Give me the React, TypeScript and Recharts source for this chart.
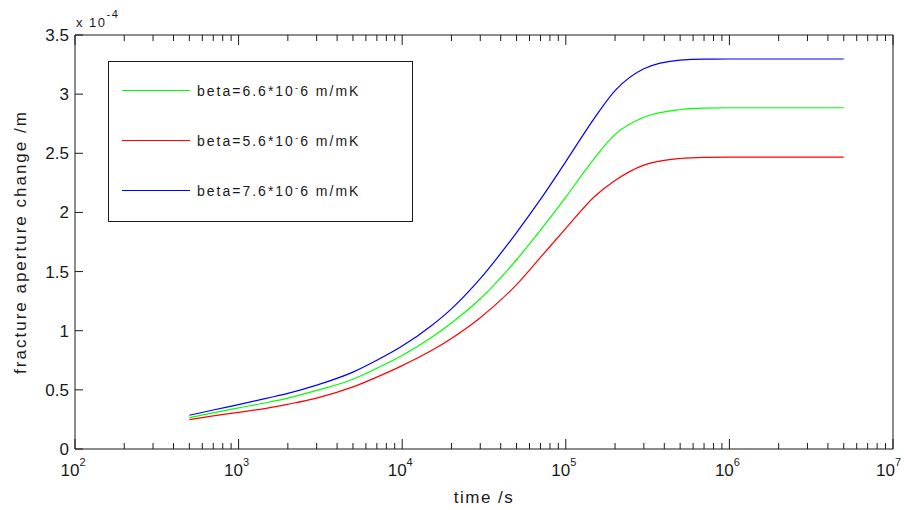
import React from "react"
import { LineChart, Line, XAxis, YAxis, Legend, Label } from "recharts"

const FONT = '"Liberation Sans", Arial, Helvetica, sans-serif'
const INK = "#1a1a1a"

// time /s (log axis), aperture change in units of 1e-4 m
const times = [500, 700, 1000, 1500, 2000, 3000, 5000, 7000, 1e4, 1.5e4, 2e4, 3e4, 5e4, 7e4, 1e5, 1.5e5, 2e5, 3e5, 5e5, 7e5, 1e6, 2e6, 5e6]
const beta66 = [0.265, 0.305, 0.348, 0.393, 0.43, 0.495, 0.59, 0.682, 0.79, 0.94, 1.065, 1.27, 1.6, 1.85, 2.13, 2.46, 2.66, 2.805, 2.87, 2.882, 2.885, 2.885, 2.885]
const beta56 = [0.248, 0.28, 0.31, 0.345, 0.378, 0.43, 0.525, 0.608, 0.705, 0.83, 0.935, 1.11, 1.39, 1.62, 1.865, 2.135, 2.27, 2.4, 2.456, 2.466, 2.468, 2.468, 2.468]
const beta76 = [0.285, 0.33, 0.375, 0.43, 0.47, 0.54, 0.65, 0.75, 0.87, 1.04, 1.185, 1.44, 1.83, 2.11, 2.43, 2.8, 3.03, 3.215, 3.288, 3.296, 3.297, 3.297, 3.297]

const majorTicks = [1e2, 1e3, 1e4, 1e5, 1e6, 1e7]
const minorTicks = majorTicks.slice(0, -1).flatMap((d) => [2, 3, 4, 5, 6, 7, 8, 9].map((k) => k * d))
const xTicks = [...majorTicks, ...minorTicks].sort((a, b) => a - b)
const yTicks = [0, 0.5, 1, 1.5, 2, 2.5, 3, 3.5]

const series = [
  { key: "b66", name: "beta=6.6*10^-6 m/mK", values: beta66, color: "#00ff00" },
  { key: "b56", name: "beta=5.6*10^-6 m/mK", values: beta56, color: "#ff0000" },
  { key: "b76", name: "beta=7.6*10^-6 m/mK", values: beta76, color: "#0000ff" },
]

const data = times.map((t, i) => {
  const p: Record<string, number> = { t }
  series.forEach((s) => {
    p[s.key] = s.values[i]
  })
  return p
})

const isMajor = (v: number) => {
  const e = Math.log10(v)
  return Math.abs(e - Math.round(e)) < 1e-9
}

// "10^-6" in the matlab tex sense: only the minus is raised
function TexText({ text }: { text: string }) {
  const [head, tail] = text.split("^-")
  return (
    <>
      {head}
      <span style={{ fontSize: "0.7em", verticalAlign: "0.5em" }}>-</span>
      {tail}
    </>
  )
}

// matlab draws its ticks inward, minor ones shorter
function BottomTick(props: any) {
  const { x, y, payload } = props
  const major = isMajor(payload.value)
  // last label would run past the figure edge, so right-align it there
  const last = payload.value === majorTicks[majorTicks.length - 1]
  return (
    <g>
      <line x1={x} x2={x} y1={y} y2={y - (major ? 10 : 6)} stroke={INK} />
      {major && (
        <text
          x={last ? x + 8 : x - 2}
          y={y + 27}
          textAnchor={last ? "end" : "middle"}
          fontSize={17}
          fill={INK}
          fontFamily={FONT}
        >
          10<tspan dy={-10} fontSize={11}>{Math.round(Math.log10(payload.value))}</tspan>
        </text>
      )}
    </g>
  )
}

function TopTick(props: any) {
  const { x, y, payload } = props
  return <line x1={x} x2={x} y1={y} y2={y + (isMajor(payload.value) ? 10 : 6)} stroke={INK} />
}

function LegendBox(props: any) {
  const payload = props.payload ?? []
  const items = series.map((s) => payload.find((p: any) => p.value === s.name)).filter(Boolean)
  return (
    <div
      style={{
        width: 305,
        height: 161,
        boxSizing: "border-box",
        border: `1px solid ${INK}`,
        background: "#fff",
        paddingTop: 3,
        fontFamily: FONT,
        fontSize: 14,
        letterSpacing: 2,
        color: INK,
      }}
    >
      {items.map((e: any) => (
        <div key={e.value} style={{ display: "flex", alignItems: "center", height: 50 }}>
          <span style={{ display: "inline-block", marginLeft: 13, width: 68, height: 0, borderTop: `1px solid ${e.color}` }} />
          <span style={{ marginLeft: 7, whiteSpace: "nowrap" }}>
            <TexText text={e.value} />
          </span>
        </div>
      ))}
    </div>
  )
}

const xCommon = {
  dataKey: "t",
  type: "number" as const,
  scale: "log" as const,
  domain: [100, 1e7],
  allowDataOverflow: true,
  ticks: xTicks,
  interval: 0 as const,
  height: 1,
  tickSize: 0,
  tickMargin: 0,
  tickLine: false,
  axisLine: { stroke: INK },
}

export default function App() {
  return (
    <div>
      <style>{"body{margin:0}"}</style>
      <LineChart
        width={904}
        height={510}
        data={data}
        margin={{ top: 34, right: 10, bottom: 60, left: 0 }}
        style={{ fontFamily: FONT, background: "#fff" }}
      >
        <XAxis
          {...xCommon}
          xAxisId="main"
          tick={<BottomTick />}
          label={{ value: "time /s", position: "bottom", offset: 41, fill: INK, fontSize: 17, style: { letterSpacing: 1.5 } }}
        />
        <XAxis {...xCommon} xAxisId="top" orientation="top" tick={<TopTick />} />
        <YAxis
          yAxisId="main"
          type="number"
          domain={[0, 3.5]}
          ticks={yTicks}
          interval={0}
          width={75}
          tickSize={-8}
          tickMargin={14}
          axisLine={{ stroke: INK }}
          tickLine={{ stroke: INK }}
          tick={{ fill: INK, fontSize: 17 }}
          label={{
            value: "fracture aperture change /m",
            angle: -90,
            position: "insideLeft",
            offset: 20,
            fill: INK,
            fontSize: 17,
            style: { textAnchor: "middle", letterSpacing: 2 },
          }}
        >
          <Label
            position="top"
            content={(p: any) => {
              const vb = p.viewBox ?? {}
              return (
                <text x={(vb.x ?? 0) + (vb.width ?? 75) + 1} y={(vb.y ?? 35) - 8} fontSize={13} fill={INK} fontFamily={FONT} style={{ letterSpacing: 1.5 }}>
                  x 10<tspan dy={-9} fontSize={11}>-4</tspan>
                </text>
              )
            }}
          />
        </YAxis>
        <YAxis
          yAxisId="right"
          orientation="right"
          type="number"
          domain={[0, 3.5]}
          allowDataOverflow
          ticks={yTicks}
          interval={0}
          width={1}
          tick={false}
          tickSize={-8}
          axisLine={{ stroke: INK }}
          tickLine={{ stroke: INK }}
        />
        <Legend
          layout="vertical"
          align="center"
          verticalAlign="middle"
          content={LegendBox}
          wrapperStyle={{ left: 108, top: 61, width: 305, height: 161 }}
        />
        {series.map((s) => (
          <Line
            key={s.key}
            xAxisId="main"
            yAxisId="main"
            type="monotone"
            dataKey={s.key}
            name={s.name}
            stroke={s.color}
            strokeWidth={1.2}
            dot={false}
            isAnimationActive={false}
          />
        ))}
      </LineChart>
    </div>
  )
}
